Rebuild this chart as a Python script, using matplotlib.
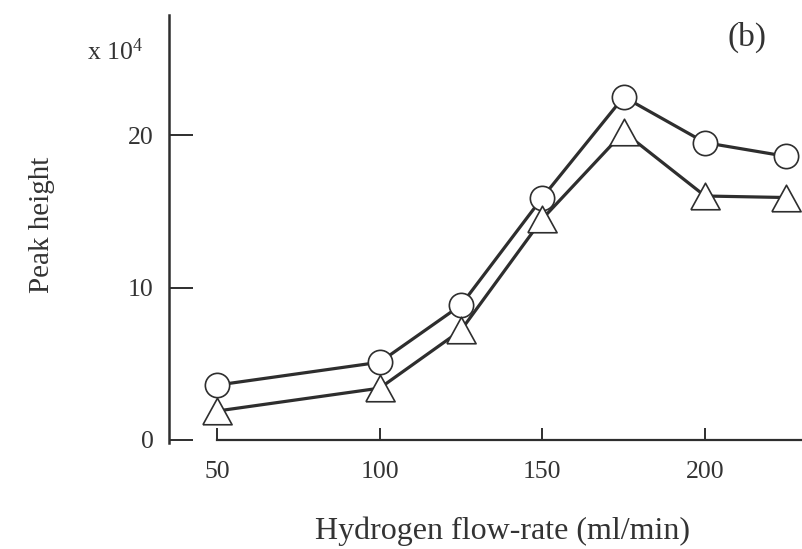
import matplotlib
matplotlib.use("Agg")
import matplotlib.pyplot as plt

plt.rcParams['font.family'] = ['Liberation Serif', 'DejaVu Serif']
plt.rcParams['mathtext.fontset'] = 'custom'
plt.rcParams['mathtext.rm'] = 'Liberation Serif'
plt.rcParams['mathtext.it'] = 'Liberation Serif:italic'

# hydrogen flow-rate (ml/min) and peak heights (x 10^4)
flow = [50, 100, 125, 150, 175, 200, 225]
peak_circle = [3.6, 5.1, 8.85, 15.9, 22.5, 19.5, 18.6]
peak_triangle = [1.9, 3.4, 7.2, 14.5, 20.2, 16.0, 15.9]
xticks = [50, 100, 150, 200]
yticks = [0, 10, 20]

ink = '#2e2e2e'
W, H = 802, 549

fig = plt.figure(figsize=(W / 100, H / 100), dpi=100)
ax = fig.add_axes([169 / W, 1 - 440 / H, 633 / W, 425 / H])
ax.set_xlim(35.24, 229.8)
ax.set_ylim(0, 27.87)

# wide triangle marker
tri = [(-1.1, -1.0), (1.1, -1.0), (0.0, 1.0), (-1.1, -1.0)]

ax.plot(flow, peak_circle, color=ink, lw=2.3, zorder=2, clip_on=False)
ax.plot(flow, peak_triangle, color=ink, lw=2.3, zorder=2, clip_on=False)
ax.plot(flow, peak_circle, ls='none', marker='o', ms=17.5, mfc='white',
        mec=ink, mew=1.2, zorder=3, clip_on=False)
ax.plot(flow, peak_triangle, ls='none', marker=tri, ms=21, mfc='white',
        mec=ink, mew=1.2, zorder=3, clip_on=False)

for side in ['top', 'right']:
    ax.spines[side].set_visible(False)
ax.spines['left'].set_linewidth(1.8)
ax.spines['left'].set_color(ink)
ax.spines['left'].set_bounds(-0.2, 27.87)
ax.spines['bottom'].set_linewidth(1.6)
ax.spines['bottom'].set_color(ink)
ax.spines['bottom'].set_bounds(50, 229.8)

ax.set_xticks(xticks)
ax.set_yticks(yticks)
ax.tick_params(axis='y', direction='in', length=17, width=1.4, pad=11,
               labelsize=18.5, color=ink, labelcolor='#333333')
ax.tick_params(axis='x', direction='in', length=9, width=1.4, pad=15,
               labelsize=18.5, color=ink, labelcolor='#333333')

fig.text(87 / W, 1 - 60 / H, 'x 10$^4$', fontsize=18.5, color='#333333',
         ha='left', va='baseline')
fig.text(747 / W, 1 - 37 / H, '(b)', fontsize=24, color='#333333',
         ha='center', va='center')
fig.text(503 / W, 1 - 531 / H, 'Hydrogen flow-rate (ml/min)', fontsize=23,
         color='#333333', ha='center', va='center')
fig.text(42 / W, 1 - 293 / H, 'Peak height', fontsize=21, color='#333333',
         rotation=90, ha='center', va='bottom')

fig.savefig('out.png', dpi=100)
